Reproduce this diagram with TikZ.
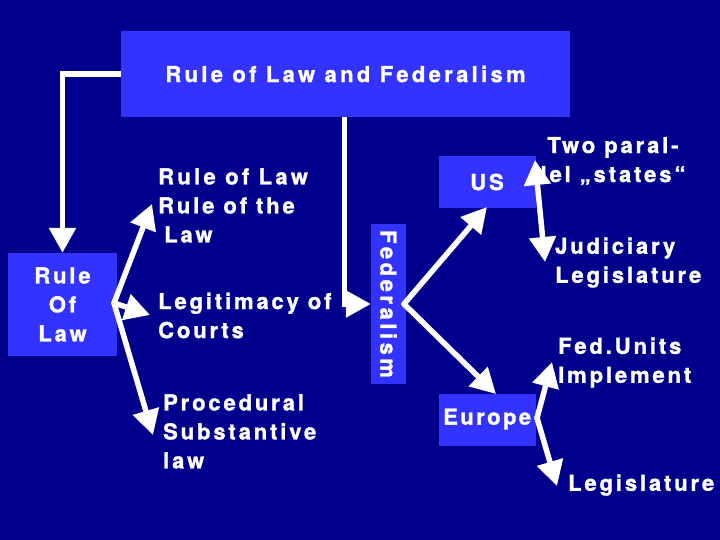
\documentclass[tikz,border=0pt]{standalone}
\usepackage{fontspec}
\setmainfont{TeX Gyre Heros}[LetterSpace=13, BoldFeatures={FakeBold=1.3}]
\usetikzlibrary{arrows.meta}
\definecolor{bgc}{RGB}{0,0,140}
\definecolor{boxc}{RGB}{51,51,255}
\tikzset{
  box/.style={fill=boxc, inner sep=0pt, text=white, font=\bfseries\fontsize{22}{29}\selectfont},
  txt/.style={text=white, inner sep=0pt, font=\bfseries\fontsize{22}{29}\selectfont},
  arr/.style={draw=white, line width=5.5pt, -{Triangle[length=25pt,width=26pt]}},
  darr/.style={draw=white, line width=5.5pt, {Triangle[length=25pt,width=26pt]}-{Triangle[length=25pt,width=26pt]}},
}
\begin{document}
\begin{tikzpicture}[x=1pt,y=-1pt]
\fill[bgc] (0,0) rectangle (720,540);
\useasboundingbox (0,0) rectangle (720,540);
% boxes
\node[box, minimum width=449pt, minimum height=86pt] (title) at (345.5,74) {\addfontfeature{LetterSpace=15}Rule of Law and Federalism};
\node[box, minimum width=109pt, minimum height=103pt, align=center] (rol) at (62.5,304.5) {Rule\\Of\\Law};
\node[box, minimum width=35pt, minimum height=160pt] (fed) at (388.5,304) {};
\node[txt, rotate=-90] (fedt) at (fed.center) {\addfontfeature{LetterSpace=16}Federalism};
\node[box, minimum width=97pt, minimum height=52pt] (us) at (487,182) {US};
\node[box, minimum width=97pt, minimum height=52pt] (eu) at (487,420) {};
\node[txt, anchor=west] (eut) at (443,419) {\addfontfeature{LetterSpace=11}Europe};
% texts
\node[txt, anchor=west, align=left] (rl) at (158,205.5) {\addfontfeature{LetterSpace=15}Rule of Law\\Rule of the\\\hspace{6pt}Law};
\node[txt, anchor=west, align=left] (lc) at (158,315.5) {Legitimacy of\\Courts};
\node[txt, anchor=west, align=left] (ps) at (163,431.5) {Procedural\\Substantive\\law};
\node[txt, align=center] (two) at (613,161) {Two paral-\\lel „states“};
\node[txt, anchor=west, align=left] (jl) at (555,262.5) {Judiciary\\Legislature};
\node[txt, anchor=west, align=left] (fi) at (558,362.5) {Fed.Units\\Implement};
\node[txt, anchor=west] (leg) at (568,485) {Legislature};
% coordinates
\coordinate (tb) at (344.5,117);
\coordinate (ra) at (114,303);
\coordinate (t1) at (152,204);
\coordinate (t2) at (150,315);
\coordinate (t3) at (153,435);
\coordinate (fa) at (404,304);
\coordinate (tus) at (487,207);
\coordinate (teu) at (496,394);
\coordinate (ust) at (535,160);
\coordinate (usb) at (545,262);
\coordinate (ea) at (537,418);
\coordinate (e1) at (552,362);
\coordinate (e2) at (557,486);
% connectors
\draw[arr] (title.west) -| (rol.north);
\draw[arr] (tb) |- (fed.west);
\draw[arr, line cap=round] (ra) -- (t1);
\draw[arr, line cap=round] (ra) -- (t2);
\draw[arr, line cap=round] (ra) -- (t3);
\draw[arr, line cap=round] (fa) -- (tus);
\draw[arr, line cap=round] (fa) -- (teu);
\draw[darr] (ust) -- (usb);
\draw[arr, line cap=round] (ea) -- (e1);
\draw[arr, line cap=round] (ea) -- (e2);
\end{tikzpicture}
\end{document}
